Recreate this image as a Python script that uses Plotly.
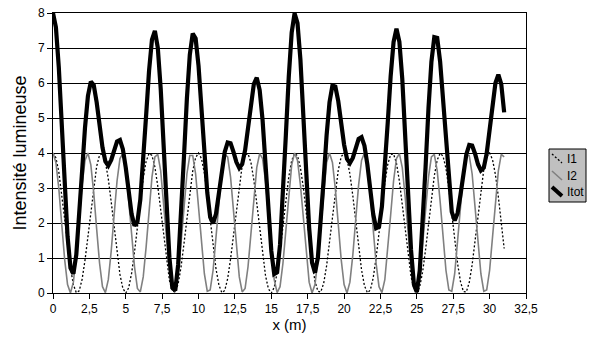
import plotly.graph_objects as go

# sampling grid (m)
x_m = [round(i * 0.2, 1) for i in range(156)]

I1 = [4.00,3.86,3.46,2.85,2.12,1.38,0.72,0.24,0.01,0.06,
      0.39,0.94,1.63,2.38,3.08,3.62,3.94,3.98,3.75,3.26,
      2.60,1.86,1.13,0.53,0.13,0.00,0.15,0.56,1.17,1.90,
      2.64,3.29,3.76,3.99,3.93,3.60,3.05,2.35,1.60,0.90,
      0.36,0.06,0.02,0.26,0.75,1.41,2.16,2.88,3.48,3.87,
      4.00,3.84,3.43,2.82,2.08,1.34,0.69,0.23,0.01,0.07,
      0.41,0.97,1.67,2.42,3.11,3.65,3.95,3.98,3.73,3.23,
      2.57,1.82,1.10,0.50,0.12,0.00,0.16,0.58,1.20,1.93,
      2.68,3.32,3.78,3.99,3.92,3.58,3.02,2.31,1.56,0.87,
      0.34,0.05,0.03,0.28,0.78,1.45,2.20,2.92,3.51,3.89,
      4.00,3.83,3.40,2.78,2.05,1.31,0.66,0.21,0.01,0.08,
      0.43,1.00,1.71,2.46,3.14,3.67,3.96,3.97,3.71,3.20,
      2.53,1.78,1.07,0.48,0.11,0.00,0.18,0.61,1.24,1.97,
      2.71,3.35,3.80,3.99,3.91,3.56,2.98,2.27,1.52,0.84,
      0.32,0.04,0.03,0.30,0.81,1.49,2.24,2.95,3.53,3.90,
      4.00,3.81,3.38,2.75,2.01,1.27]

I2 = [4.00,3.73,2.98,1.97,0.96,0.24,0.00,0.31,1.08,2.10,
      3.09,3.79,4.00,3.66,2.86,1.83,0.85,0.18,0.01,0.38,
      1.20,2.23,3.20,3.84,3.98,3.58,2.74,1.70,0.75,0.13,
      0.03,0.46,1.32,2.36,3.31,3.89,3.96,3.49,2.62,1.57,
      0.65,0.09,0.05,0.55,1.44,2.49,3.40,3.93,
      3.93,3.40,2.49,1.44,0.55,0.05,0.09,0.65,1.57,2.62,
      3.49,3.96,3.89,3.31,2.36,1.32,0.46,0.03,0.13,0.75,
      1.70,2.74,3.58,3.98,3.84,3.20,2.23,1.20,0.38,0.01,
      0.18,0.85,1.83,2.86,3.66,4.00,3.79,3.09,2.10,1.08,
      0.31,0.00,0.24,0.96,1.97,2.98,3.73,4.00,
      3.73,2.98,1.97,0.96,0.24,0.00,0.31,1.08,2.10,3.09,
      3.79,4.00,3.66,2.86,1.83,0.85,0.18,0.01,0.38,1.20,
      2.23,3.20,3.84,3.98,3.58,2.74,1.70,0.75,0.13,0.03,
      0.46,1.32,2.36,3.31,3.89,3.96,3.49,2.62,1.57,0.65,
      0.09,0.05,0.55,1.44,2.49,3.40,3.93,3.93,3.40,2.49,
      1.44,0.55,0.05,0.09,0.65,1.57,2.62,3.49,3.96,3.89]

Itot = [8.00,7.59,6.44,4.82,3.08,1.62,0.72,0.55,1.09,2.16,
        3.48,4.73,5.63,6.04,5.94,5.45,4.79,4.16,3.76,3.64,
        3.80,4.09,4.33,4.37,4.11,3.58,2.89,2.26,1.92,2.03,
        2.67,3.75,5.08,6.35,7.24,7.49,7.01,5.84,4.22,2.47,
        1.01,0.15,0.07,0.81,2.19,3.90,5.56,6.81,7.41,7.27,
        6.49,5.28,3.98,2.87,2.17,1.99,2.26,2.85,3.50,4.03,
        4.30,4.28,4.03,3.74,3.57,3.68,4.08,4.73,5.43,5.97,
        6.15,5.80,4.94,3.70,2.35,1.20,0.54,0.59,1.38,2.78,
        4.51,6.18,7.44,7.99,7.71,6.67,5.12,3.39,1.87,0.87,
        0.58,1.01,2.00,3.26,4.51,5.45,5.93,5.90,5.48,4.85,
        4.24,3.83,3.71,3.86,4.15,4.40,4.45,4.21,3.67,2.94,
        2.26,1.85,1.89,2.47,3.52,4.87,6.19,7.17,7.55,7.18,
        6.11,4.52,2.77,1.23,0.24,0.03,0.64,1.93,3.60,5.28,
        6.60,7.31,7.29,6.61,5.48,4.21,3.07,2.32,2.07,2.28,
        2.81,3.44,3.96,4.23,4.21,3.98,3.68,3.50,3.58,3.99,
        4.65,5.38,6.00,6.24,5.97,5.16]

series_names = ["I1", "I2", "Itot"]
x_title = "x (m)"
y_title = "Intensité lumineuse"

FONT = "Arial, 'Liberation Sans', sans-serif"
W, H = 597, 351
# plot area in page pixels: x 53..526, y 13..293
L, T = 53, 13
R, B = W - 526, H - 293
PW, PH = W - L - R, H - T - B

def px(xs):
    return (xs - L) / PW

def py(ys):
    return (H - B - ys) / PH

fig = go.Figure()
fig.add_trace(go.Scatter(x=x_m, y=I1, mode="lines", name=series_names[0],
                         line=dict(color="black", width=1.3, dash="2px,2px")))
fig.add_trace(go.Scatter(x=x_m, y=I2, mode="lines", name=series_names[1],
                         line=dict(color="#808080", width=1.6)))
fig.add_trace(go.Scatter(x=x_m, y=Itot, mode="lines", name=series_names[2],
                         line=dict(color="black", width=4.2)))

shapes = [
    dict(type="rect", xref="paper", yref="paper",
         x0=px(549), x1=px(586), y0=py(149), y1=py(202),
         fillcolor="#c0c0c0", line=dict(color="black", width=1), layer="above"),
    dict(type="line", xref="paper", yref="paper",
         x0=px(552), x1=px(562), y0=py(154), y1=py(163),
         line=dict(color="black", width=1.3, dash="2px,2px")),
    dict(type="line", xref="paper", yref="paper",
         x0=px(552), x1=px(562), y0=py(171), y1=py(180),
         line=dict(color="#808080", width=1.6)),
    dict(type="line", xref="paper", yref="paper",
         x0=px(552), x1=px(562), y0=py(187), y1=py(196),
         line=dict(color="black", width=4)),
]
annotations = []
for name, yy in zip(series_names, [159, 176, 192]):
    annotations.append(dict(xref="paper", yref="paper", x=px(565), y=py(yy),
                            text=name, showarrow=False, xanchor="left", yanchor="middle",
                            font=dict(family=FONT, size=12, color="black")))

fig.update_layout(
    width=W, height=H,
    margin=dict(l=L, r=R, t=T, b=B, pad=0, autoexpand=False),
    paper_bgcolor="white", plot_bgcolor="white",
    separators=", ",
    showlegend=False,
    font=dict(family=FONT, size=12, color="black"),
    shapes=shapes, annotations=annotations,
    xaxis=dict(range=[0, 32.5], dtick=2.5, tick0=0, showgrid=False, zeroline=False,
               showline=True, linecolor="black", linewidth=1, mirror=True,
               ticks="outside", ticklen=5, tickcolor="black", tickwidth=1,
               ticklabeloverflow="allow",
               tickfont=dict(family=FONT, size=12),
               title=dict(text=x_title, font=dict(family=FONT, size=15), standoff=2)),
    yaxis=dict(range=[0, 8], dtick=1, tick0=0, showgrid=True, gridcolor="black", gridwidth=1,
               zeroline=False, showline=True, linecolor="black", linewidth=1, mirror=True,
               ticks="outside", ticklen=5, tickcolor="black", tickwidth=1,
               ticklabeloverflow="allow",
               tickfont=dict(family=FONT, size=12),
               title=dict(text=y_title, font=dict(family=FONT, size=18), standoff=6)),
)

fig.write_html("out.html",
               config={"displayModeBar": False, "staticPlot": True},
               post_script="document.body.style.margin='0';document.body.style.overflow='hidden';")
